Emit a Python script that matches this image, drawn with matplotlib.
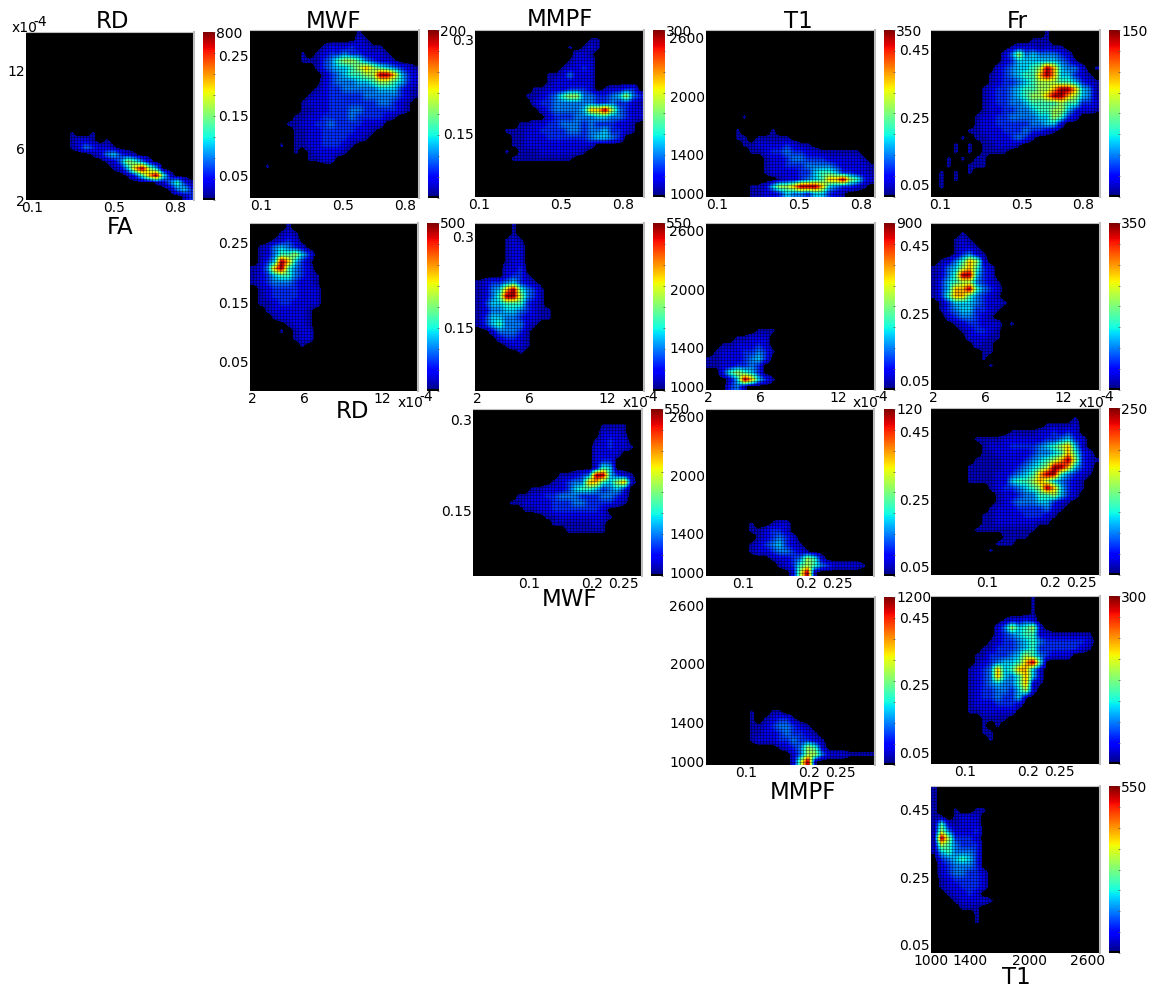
import numpy as np
import matplotlib
matplotlib.use('Agg')
import matplotlib.pyplot as plt
from matplotlib.cm import ScalarMappable
from matplotlib.colors import ListedColormap, Normalize

# density, one string per row (top row first)
# . = empty, 1..9 = dark blue up to dark red
FA_RD = [
"", "", "", "", "", "", "", "", "", "", "", "", "", "",
"......1..1",
"......1221.1",
"......1243221",
".........1245321",
"...........1247642",
"............1258975",
"..............1368962",
"..................124631",
"....................1453",
"......................13",
]
FA_MWF = [
"...............1",
"...............21",
"..........122232211",
".......1.12334332221",
".......11134677643221",
".........134556787654321",
"..........13456677998532",
"..........23444556776532",
".........123344444555321",
"........1223333344444321",
".......1222333333344321",
".......1122333443333321",
"......112233334333321",
".....11223343333222",
"......112233333221",
"......11223333221",
"....1.112233321",
"......1.122221",
"........1122",
"..1",
"", "", "", "",
]
FA_MMPF = [
"",
"................11",
".............1.121",
"..............221",
".............1222",
"............12232",
"..........1124222",
"..........1222222",
"........112223332.12233",
".......112346774433457431",
"........2334444443343321",
".........234444588974322",
"..........23334445544322",
"......11223344434333221",
"....1112233334434453321",
".....1122233333345543",
".....112222222222",
"....1.1112222221",
".....111111111",
"", "", "", "", "",
]
FA_T1 = [
"", "", "", "", "", "", "", "", "", "", "", "",
".....1",
"",
"....1....1",
"....11.11111",
".....1122223211",
"......1123343322111111",
"........122344333222221",
"........1223334444322221",
"........1222233566533221",
"..........12234568897632",
"......11257789998543321",
"......11223544355321",
]
FA_Fr = [
"................1",
"..............111",
"...........12221211",
"..........2474544432",
"..........23555555431...1",
".........2345567985442.1",
"........123456689855321",
"........1233456777665321",
".......12334566778998541",
".......12334567789987541",
".......123344566667663321",
".......12233445667753221",
"......122334444557632",
"......1223333344552",
".....1122233343321",
"....1.112223431",
"...1.1.112221",
"...1.1.1111",
"..1.1.11",
"..1..111",
".1.1.1",
".1.1",
".1",
"",
]
RD_MWF = [
".....1",
"....121",
"...1232",
".1245432",
".12466753",
".13598531",
"124896432",
"1235664321",
"1234443221",
".123333222",
".123333222",
".112332222",
"..1222221",
"...122221",
".....1221",
"....1.122",
"......122",
".......1",
"", "", "", "", "", "",
]
RD_MMPF = [
".....1",
".....1",
"....121",
"....122",
"....122",
"....122",
"....223",
"....2331",
"123345321",
"1245896431",
"1246997431",
"1355666321",
"12445543211",
"13554432211",
"135644421",
"..244431",
"...23321",
"....1221",
"......1",
"", "", "", "", "",
]
RD_T1 = [
"", "", "", "", "", "", "", "", "", "", "", "", "", "", "",
".......111",
"....11222",
"..1122232",
".122233431",
"112223453",
"11223343",
"..367653",
"...2598531",
"...341",
]
RD_Fr = [
"",
"....1",
"...121",
"...1221",
"...13421",
".1246872",
"124578632",
"124699532",
"1356774321",
"1358896432",
"1368864321",
".1355543221",
".134553321",
"..2344321",
"...1233222.1",
"....123321",
".....22211",
"......211",
".......11",
".......1",
"........1",
"", "", "",
]
MWF_MMPF = [
"", "",
"..................1111",
"..................2221",
".................12322",
".................223221",
".................2222",
".................233",
".................265",
"............11234995321",
"...........123448865782",
"........11222356653453",
"......1122334443334432",
".....11222233344333321",
".......112233333332",
"..........1122222221",
"...........11111121",
".............111111",
"", "", "", "", "", "",
]
MWF_T1 = [
"", "", "", "", "", "", "", "", "", "", "", "", "", "", "", "",
"......1..122",
"......112332",
".......123432",
"......12345321",
"......122344321",
".........12234762",
"..........1236764322221",
"............2791",
]
MWF_Fr = [
"",
"....................1",
"................11112",
"...........1111223232",
"......1111222222334532",
".......122233334567852",
".......1122222344568632",
"......111122234567897321",
".....111112234567998532",
".....111122345689964321",
".....11112256678754321",
"........12334567985321",
".........122344667532",
".........12344455321",
"........12223333421",
".......11222233321",
".......1122222211",
"......111111111",
"..........1111",
".........111",
"........1",
"", "", "",
]
MMPF_T1 = [
"", "", "", "", "", "", "", "", "", "", "", "", "", "", "", "",
"......1..11",
"......1.12331",
"......112344321",
"......1122343321",
"......12223343321",
"..........1234762",
"............247742221111",
"............2791",
]
MMPF_Fr = [
"..............1",
"..............1",
"..............1",
"..........12232",
".........2475672",
".........23456622111111",
"........123345643333332",
".......1133345633333321",
"......11333457643222",
"......1234556896",
".....12348568852",
".....12348546852",
".....12345446821",
".....1233443572",
".....123343351",
".....12223332",
".....1122222",
".......1111",
".......1.1",
".......11",
"........1",
"", "", "",
]
T1_Fr = [
"1",
"1",
"1",
"1..1..11",
"11.1222",
"1621222",
"1742223",
"1973332",
"1764333",
"1564443",
".345653",
".234443",
".2344332",
".1233332",
".1223332",
"..12232",
"...122221",
"....111",
"......1",
"......1",
"", "", "", "",
]

# what each digit means as a share of the colorbar
digit_levels = [0, 0.055, 0.10, 0.17, 0.25, 0.33, 0.42, 0.55, 0.72, 0.98]

xticks_FA = [0.1, 0.5, 0.8]
ticks_RD = [2, 6, 12]
ticks_MWF = [0.1, 0.2, 0.25]
ticks_MWF_y = [0.05, 0.15, 0.25]
ticks_MMPF_y = [0.15, 0.3]
ticks_T1 = [1000, 1400, 2000, 2600]
ticks_Fr = [0.05, 0.25, 0.45]

# name, box in pixels (l,t,r,b), colorbar box, colorbar max, xlim, ylim, xticks, yticks
panels = [
 (FA_RD,    (26,32,194,200),   (203,215), 800,  (0.07,0.894),  (2,15),        xticks_FA, [2,6,12]),
 (FA_MWF,   (250,30,419,198),  (428,439), 200,  (0.046,0.87),  (0.012,0.292), xticks_FA, ticks_MWF_y),
 (FA_MMPF,  (475,30,644,197),  (653,665), 300,  (0.08,0.904),  (0.047,0.316), xticks_FA, ticks_MMPF_y),
 (FA_T1,    (706,30,875,197),  (884,895), 350,  (0.046,0.87),  (969,2682),    xticks_FA, ticks_T1),
 (FA_Fr,    (931,30,1100,197), (1109,1120), 150, (0.056,0.88), (0.014,0.509), xticks_FA, ticks_Fr),
 (RD_MWF,   (250,223,418,391), (427,439), 500,  (1.8,14.8),    (0.001,0.283), ticks_RD, ticks_MWF_y),
 (RD_MMPF,  (475,223,644,391), (653,665), 550,  (1.8,14.8),    (0.045,0.322), ticks_RD, ticks_MMPF_y),
 (RD_T1,    (706,223,875,390), (884,895), 900,  (1.8,14.8),    (969,2682),    ticks_RD, ticks_T1),
 (RD_Fr,    (931,223,1100,390),(1109,1120), 350, (1.8,14.8),   (0.023,0.518), ticks_RD, ticks_Fr),
 (MWF_MMPF, (473,409,642,576), (651,663), 550,  (0.011,0.279), (0.043,0.317), ticks_MWF, ticks_MMPF_y),
 (MWF_T1,   (706,409,874,576), (884,895), 120,  (0.041,0.309), (969,2682),    ticks_MWF, ticks_T1),
 (MWF_Fr,   (931,408,1100,575),(1109,1120), 250, (0.011,0.279),(0.026,0.521), ticks_MWF, ticks_Fr),
 (MMPF_T1,  (706,597,875,765), (884,895), 1200, (0.037,0.305), (969,2682),    ticks_MWF, ticks_T1),
 (MMPF_Fr,  (931,596,1100,764),(1109,1120), 300, (0.046,0.314),(0.017,0.512), ticks_MWF, ticks_Fr),
 (T1_Fr,    (931,786,1100,953),(1109,1120), 550, (1000,2724),  (0.026,0.521), ticks_T1, ticks_Fr),
]

W, H = 1157, 988
fig = plt.figure(figsize=(W/100, H/100), dpi=100)

colors = plt.get_cmap('jet')(np.linspace(0, 1, 256))
bar_colors = colors.copy()
bar_colors[:3] = (0, 0, 0, 1)
colors[:10] = (0, 0, 0, 1)
cmap = ListedColormap(colors)
bar_cmap = ListedColormap(bar_colors)


def box(l, t, r, b):
    return [l/W, 1-b/H, (r-l)/W, (b-t)/H]


def to_grid(rows):
    grid = np.zeros((24, 24))
    for i, row in enumerate(rows):
        for j, c in enumerate(row[:24]):
            if c != '.':
                grid[i, j] = digit_levels[int(c)]
    return grid


for rows, b, cb_x, top, xlim, ylim, xt, yt in panels:
    ax = fig.add_axes(box(*b))
    ax.set_facecolor('k')
    ax.imshow(to_grid(rows)*top, extent=[xlim[0], xlim[1], ylim[0], ylim[1]],
              aspect='auto', cmap=cmap, vmin=0, vmax=top,
              interpolation='bilinear', interpolation_stage='data')
    # fine lattice of the original bins, about one line every 3 px
    ax.vlines(np.linspace(xlim[0], xlim[1], 57), ylim[0], ylim[1], color='k', lw=0.7, alpha=0.35)
    ax.hlines(np.linspace(ylim[0], ylim[1], 57), xlim[0], xlim[1], color='k', lw=0.7, alpha=0.35)
    ax.set_xlim(xlim)
    ax.set_ylim(ylim)
    ax.set_xticks(xt)
    ax.set_yticks(yt)
    ax.set_xticklabels([str(v) for v in xt])
    ax.set_yticklabels([str(v) for v in yt])
    ax.tick_params(length=0, pad=1, labelsize=10)
    ax.spines['left'].set_visible(False)
    ax.spines['bottom'].set_visible(False)
    ax.spines['top'].set_color('#bdbdbd')
    ax.spines['top'].set_linewidth(0.8)
    ax.spines['right'].set_color('#bdbdbd')
    ax.spines['right'].set_linewidth(1.5)

    cax = fig.add_axes(box(cb_x[0], b[1], cb_x[1], b[3]))
    sm = ScalarMappable(norm=Normalize(0, top), cmap=bar_cmap)
    cb = fig.colorbar(sm, cax=cax)
    cb.outline.set_visible(False)
    cb.set_ticks(np.linspace(0, top, 9))
    cb.set_ticklabels([''] * 8 + [str(top)])
    cb.ax.tick_params(direction='in', length=1.5, width=0.5, pad=1, labelsize=10, color='#555555')

names_top = [('RD', 113, 22), ('MWF', 334, 22), ('MMPF', 560, 20), ('T1', 798, 21), ('Fr', 1017, 22)]
names_bottom = [('FA', 120, 227), ('RD', 353, 411), ('MWF', 569, 599), ('MMPF', 803, 792), ('T1', 1016, 977)]
for name, x, y in names_top + names_bottom:
    fig.text(x/W, 1-y/H, name, fontsize=16.5, ha='center', va='center')

# x10 and -4 are two separate texts in the original, same size
for x, y in [(12, 28), (398, 403), (623, 403), (853, 403), (1079, 403)]:
    fig.text(x/W, 1-y/H, 'x10', fontsize=10, ha='left', va='center')
    fig.text((x+21)/W, 1-(y-6)/H, '-4', fontsize=10, ha='left', va='center')

fig.savefig('out.png', dpi=100, facecolor='w')
